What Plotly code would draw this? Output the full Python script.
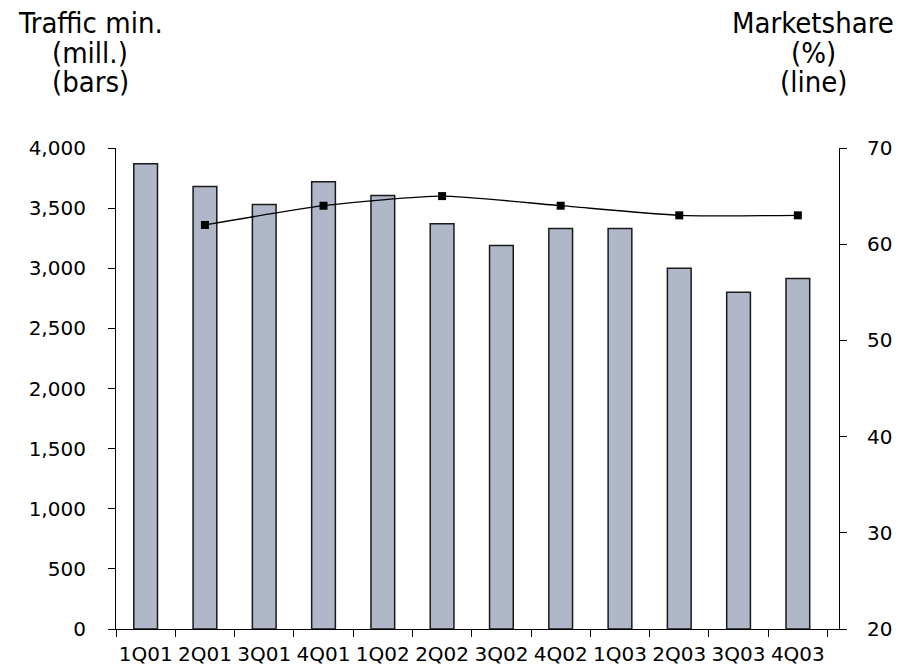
import plotly.graph_objects as go

# Quarterly traffic minutes (millions) and market share (%)
quarters = ["1Q01", "2Q01", "3Q01", "4Q01", "1Q02", "2Q02",
            "3Q02", "4Q02", "1Q03", "2Q03", "3Q03", "4Q03"]
traffic_min = [3870, 3680, 3530, 3720, 3605, 3370,
               3190, 3330, 3330, 3000, 2800, 2915]

share_quarters = ["2Q01", "4Q01", "2Q02", "4Q02", "2Q03", "4Q03"]
market_share = [62, 64, 65, 64, 63, 63]

left_ticks = [0, 500, 1000, 1500, 2000, 2500, 3000, 3500, 4000]
right_ticks = [20, 30, 40, 50, 60, 70]

FONT = "Verdana, DejaVu Sans, sans-serif"
TITLE_FONT = "Tahoma, DejaVu Sans Condensed, DejaVu Sans, sans-serif"
INK = "#000000"

fig = go.Figure()

fig.add_trace(go.Bar(
    x=quarters, y=traffic_min, width=0.4,
    marker=dict(color="#AFB7C9", line=dict(color="#1a1a1a", width=1.5)),
    yaxis="y", showlegend=False,
))

fig.add_trace(go.Scatter(
    x=share_quarters, y=market_share, mode="lines+markers",
    line=dict(color=INK, width=1.3, shape="spline", smoothing=0.6),
    marker=dict(symbol="square", size=8, color=INK),
    yaxis="y2", showlegend=False,
))

axis_common = dict(showline=True, linecolor=INK, linewidth=1.2,
                   ticks="outside", ticklen=7, tickcolor=INK, tickwidth=1.2,
                   showgrid=False, zeroline=False, automargin=False,
                   tickfont=dict(family=FONT, size=20, color=INK))

fig.update_layout(
    width=908, height=670,
    margin=dict(l=116, r=69, t=148, b=41),
    paper_bgcolor="white", plot_bgcolor="white",
    bargap=0.6,
    xaxis=dict(type="category", categoryorder="array", categoryarray=quarters,
               tickson="boundaries", tickangle=0, ticklabelstandoff=7,
               **axis_common),
    yaxis=dict(range=[0, 4000], tickvals=left_ticks, tickformat=",",
               ticklabelstandoff=18, **axis_common),
    yaxis2=dict(range=[20, 70], tickvals=right_ticks, overlaying="y",
                side="right", ticklabelstandoff=16, **axis_common),
)

title_font = dict(family=TITLE_FONT, size=29, color=INK)
for text, cx, cy in [("Traffic min.", 90, 23), ("(mill.)", 90, 53), ("(bars)", 90, 82),
                     ("Marketshare", 813, 23), ("(%)", 813, 53), ("(line)", 813, 82)]:
    fig.add_annotation(
        text=text, xref="paper", yref="paper",
        x=(cx - 116) / (908 - 116 - 69), y=(670 - 41 - cy) / (670 - 148 - 41),
        xanchor="center", yanchor="middle", showarrow=False, font=title_font,
    )

fig.write_html("out.html")
